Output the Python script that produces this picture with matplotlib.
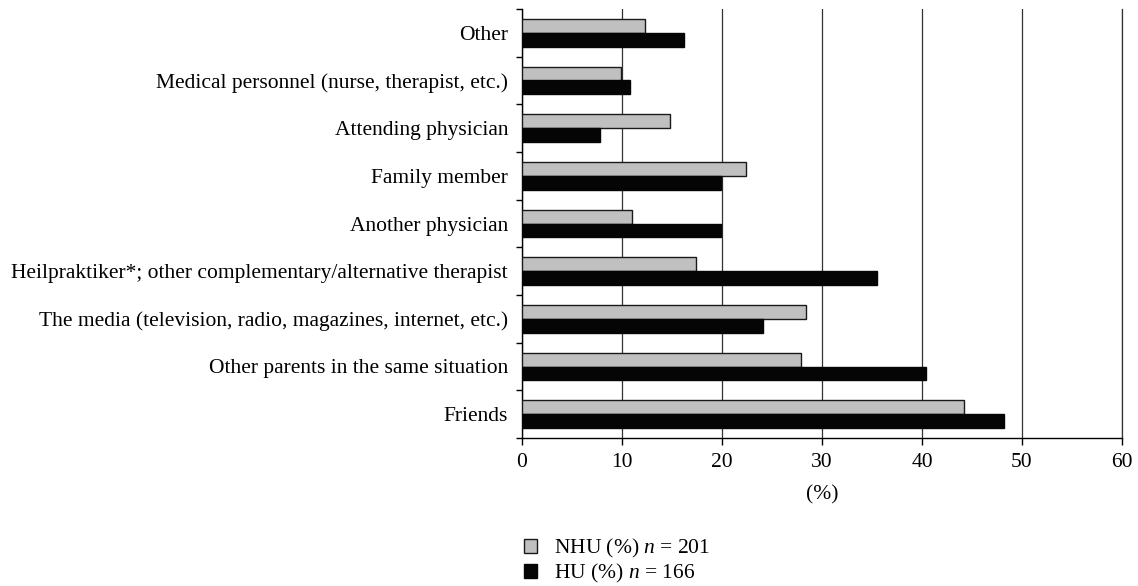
import numpy as np
import matplotlib
matplotlib.use('Agg')
import matplotlib.pyplot as plt
from matplotlib.patches import Patch

plt.rcParams['font.family'] = ['Liberation Serif', 'DejaVu Serif']
plt.rcParams['mathtext.fontset'] = 'custom'
plt.rcParams['mathtext.it'] = 'Liberation Serif:italic'
plt.rcParams['mathtext.rm'] = 'Liberation Serif'

# categories from top to bottom as in the chart
categories = [
    'Other',
    'Medical personnel (nurse, therapist, etc.)',
    'Attending physician',
    'Family member',
    'Another physician',
    'Heilpraktiker*; other complementary/alternative therapist',
    'The media (television, radio, magazines, internet, etc.)',
    'Other parents in the same situation',
    'Friends',
]
nhu = [12.3, 9.9, 14.8, 22.4, 11.0, 17.4, 28.4, 27.9, 44.2]
hu = [16.2, 10.8, 7.8, 19.9, 19.9, 35.5, 24.1, 40.4, 48.2]
xticks = [0, 10, 20, 30, 40, 50, 60]

fs = 15.5

fig = plt.figure(figsize=(11.38, 5.86), dpi=100)
ax = fig.add_axes([522 / 1138, (586 - 438) / 586, 600 / 1138, 429 / 586])

n = len(categories)
y = np.arange(n)[::-1]  # Other at top
h = 0.29

ax.barh(y + h / 2, nhu, height=h, color='#c0c0c0', edgecolor='#1a1a1a', linewidth=1.0, zorder=3)
ax.barh(y - h / 2, hu, height=h, color='#050505', edgecolor='#050505', linewidth=1.0, zorder=3)

ax.set_xlim(0, 60)
ax.set_ylim(-0.5, n - 0.5)
ax.set_xticks(xticks)
ax.tick_params(axis='x', length=5, width=1, labelsize=fs, pad=6)

# category labels at centers, ticks at boundaries
ax.set_yticks(y)
ax.set_yticklabels(categories)
ax.tick_params(axis='y', which='major', length=0, labelsize=fs, pad=10)
ax.set_yticks(np.arange(-0.5, n, 1.0), minor=True)
ax.tick_params(axis='y', which='minor', length=4, width=1)

ax.grid(axis='x', color='#333333', linewidth=0.9, zorder=0)
ax.spines['top'].set_visible(False)
ax.spines['right'].set_color('#333333')
ax.spines['right'].set_linewidth(0.9)
ax.spines['left'].set_linewidth(1)
ax.spines['bottom'].set_linewidth(1)
ax.set_xlabel('(%)', fontsize=fs, labelpad=9)

handles = [
    Patch(facecolor='#c0c0c0', edgecolor='#1a1a1a', linewidth=1.0),
    Patch(facecolor='#050505', edgecolor='#050505', linewidth=1.0),
]
labels = ['NHU (%) $n$ = 201', 'HU (%) $n$ = 166']
fig.legend(handles, labels, loc='upper left', bbox_to_anchor=(513 / 1138, 1 - 526 / 586),
           frameon=False, fontsize=fs, handlelength=0.62, handleheight=0.62,
           handletextpad=0.8, labelspacing=0.1, borderpad=0)

fig.savefig('out.png', dpi=100)
